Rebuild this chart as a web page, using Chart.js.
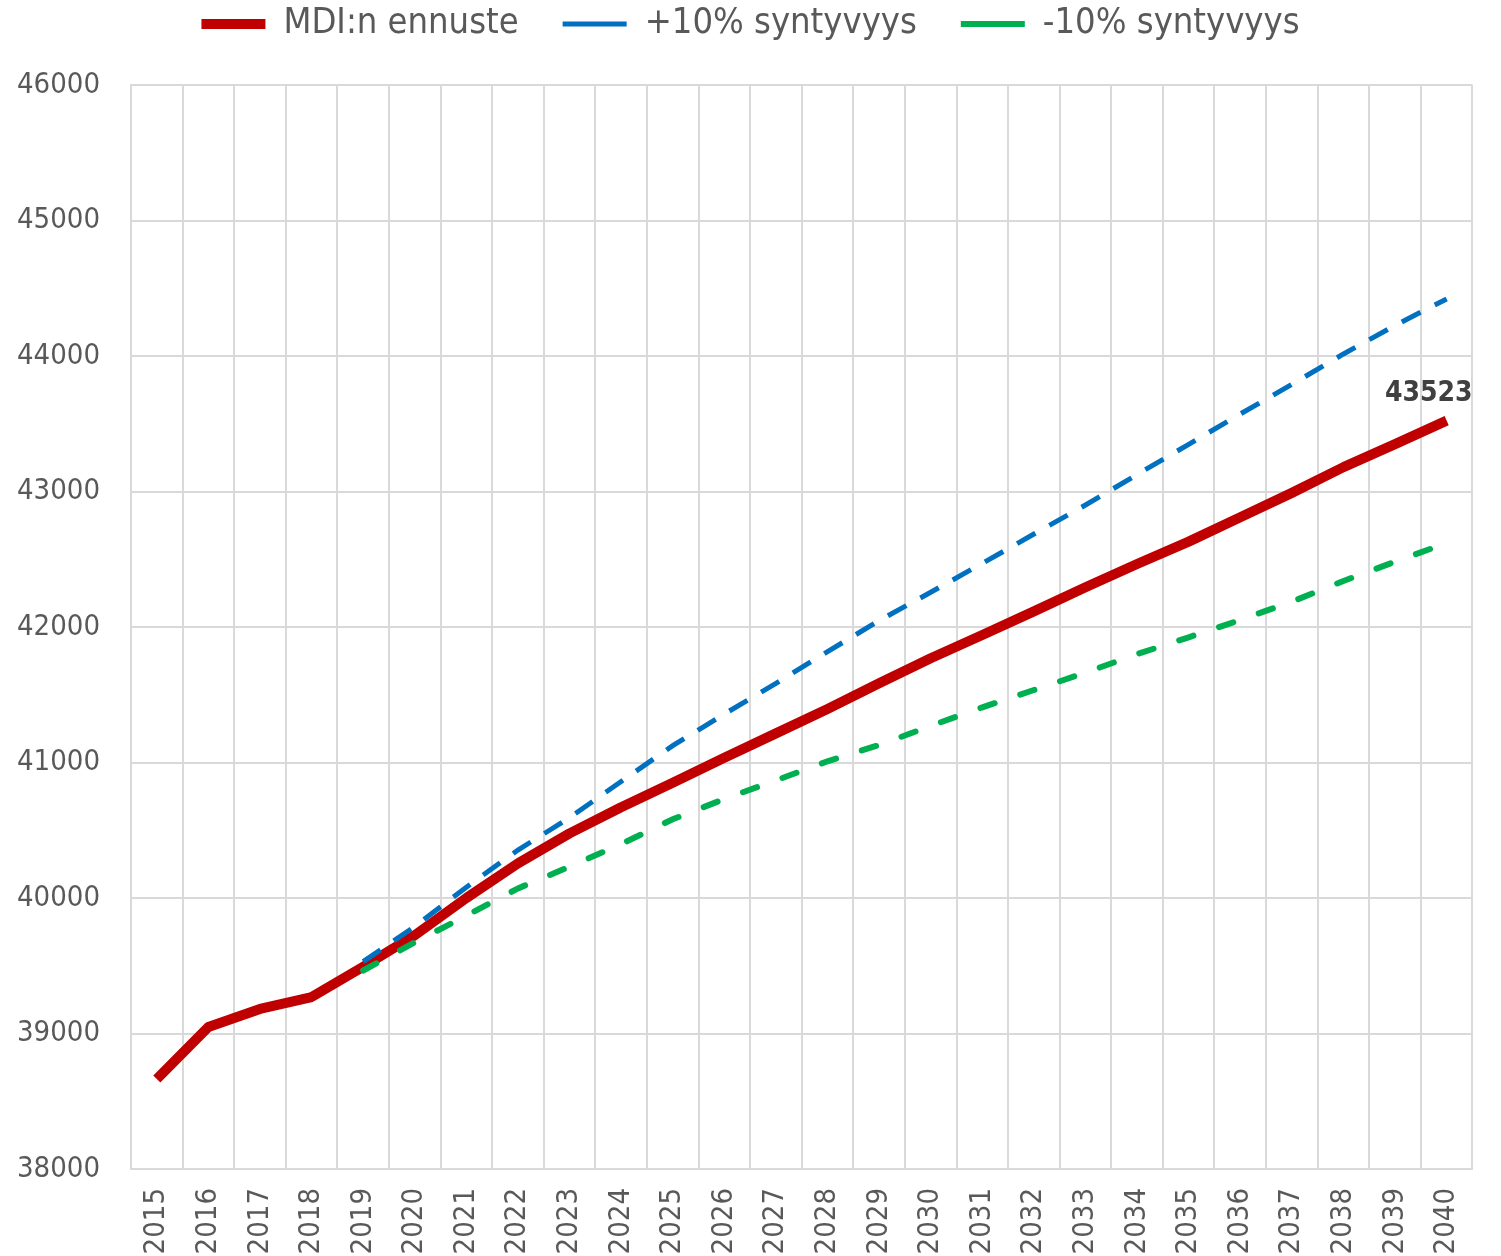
<!DOCTYPE html>
<html lang="fi">
<head>
    <meta charset="UTF-8">
    <title>Väestöennuste 2015–2040</title>
    <script src="https://cdn.jsdelivr.net/npm/chart.js"></script>
    <style>
        html, body {
            margin: 0;
            padding: 0;
            background-color: #ffffff;
        }

        .chart-container {
            width: 1501px;
            height: 1256px;
        }
    </style>
</head>
<body>
    <div class="chart-container">
        <canvas id="forecastChart" width="1501" height="1256"></canvas>
    </div>

    <script>
        const years = ['2015', '2016', '2017', '2018', '2019', '2020', '2021', '2022', '2023', '2024', '2025', '2026', '2027',
                       '2028', '2029', '2030', '2031', '2032', '2033', '2034', '2035', '2036', '2037', '2038', '2039', '2040'];

        // MDI forecast (history up to 2019)
        const mdiForecast = [38664, 39048, 39181, 39269, 39493, 39725, 40000, 40256, 40477, 40670, 40850, 41035, 41215,
                             41395, 41585, 41769, 41941, 42115, 42293, 42465, 42630, 42810, 42990, 43180, 43350, 43523];

        // birth rate +10 %
        const birthsPlus10 = [null, null, null, null, 39530, 39790, 40080, 40354, 40593, 40860, 41124, 41358, 41584,
                              41818, 42047, 42256, 42470, 42686, 42900, 43125, 43348, 43572, 43791, 44015, 44226, 44421];

        // birth rate -10 %
        const birthsMinus10 = [null, null, null, null, 39465, 39673, 39870, 40071, 40231, 40398, 40581, 40731, 40868,
                               41009, 41129, 41270, 41407, 41535, 41663, 41800, 41924, 42052, 42187, 42340, 42482, 42620];

        const seriesNames = ['MDI:n ennuste', '+10% syntyvyys', '-10% syntyvyys'];
        const yMin = 38000;
        const yMax = 46000;
        const yStep = 1000;

        const FONT = '"DejaVu Sans Condensed", "DejaVu Sans", sans-serif';
        const TEXT = '#595959';
        const GRID = '#d9d9d9';

        // value label above the last point of the main series
        const lastValueLabel = {
            id: 'lastValueLabel',
            afterDatasetsDraw(chart) {
                const meta = chart.getDatasetMeta(0);
                const last = meta.data.length - 1;
                const pt = meta.data[last];
                const ctx = chart.ctx;
                ctx.save();
                ctx.font = 'bold 28px ' + FONT;
                ctx.fillStyle = '#404040';
                ctx.textAlign = 'right';
                ctx.textBaseline = 'middle';
                ctx.fillText(String(mdiForecast[last]), pt.x + 26, pt.y - 27);
                ctx.restore();
            }
        };

        const ctx = document.getElementById('forecastChart').getContext('2d');

        const forecastChart = new Chart(ctx, {
            type: 'line',
            data: {
                labels: years,
                datasets: [
                    {
                        label: seriesNames[0], data: mdiForecast, order: 2, xAxisID: 'x', yAxisID: 'y',
                        borderColor: '#c00000', backgroundColor: '#c00000',
                        borderWidth: 10, borderCapStyle: 'butt', borderJoinStyle: 'round',
                        fill: false,
                    },
                    {
                        label: seriesNames[1], data: birthsPlus10, order: 1, xAxisID: 'x', yAxisID: 'y',
                        borderColor: '#0070c0', backgroundColor: '#0070c0',
                        borderWidth: 5, borderDash: [21, 16], borderCapStyle: 'butt',
                        fill: false,
                    },
                    {
                        label: seriesNames[2], data: birthsMinus10, order: 0, xAxisID: 'x', yAxisID: 'y',
                        borderColor: '#00b050', backgroundColor: '#00b050',
                        borderWidth: 6, borderDash: [15, 27], borderCapStyle: 'round',
                        fill: false,
                    },
                ],
            },
            options: {
                responsive: false,
                animation: false,
                layout: { padding: { top: -38, right: 0, left: 0, bottom: 0 } },
                elements: { point: { radius: 0, hoverRadius: 0 }, line: { tension: 0 } },
                scales: {
                    x: {
                        offset: true,
                        grid: { offset: true, color: GRID, lineWidth: 2, drawTicks: false },
                        border: { color: GRID, width: 2 },
                        ticks: {
                            autoSkip: false,
                            minRotation: 90,
                            maxRotation: 90,
                            padding: 19,
                            color: TEXT,
                            font: { family: FONT, size: 29 },
                        },
                        afterFit(scale) { scale.height = 87; },
                    },
                    y: {
                        min: yMin,
                        max: yMax,
                        grid: { color: GRID, lineWidth: 2, drawTicks: false },
                        border: { color: GRID, width: 2 },
                        ticks: {
                            stepSize: yStep,
                            padding: 31,
                            color: TEXT,
                            font: { family: FONT, size: 29 },
                            callback: (value) => String(value),
                        },
                        afterFit(scale) { scale.width = 131; },
                    },
                    // empty band between legend and plot
                    gap: {
                        axis: 'x',
                        type: 'category',
                        position: 'top',
                        grid: { display: false, drawTicks: false },
                        border: { display: false },
                        ticks: { display: false },
                        afterFit(scale) { scale.height = 33; },
                    },
                    // empty margin right of the plot
                    edge: {
                        axis: 'y',
                        type: 'linear',
                        position: 'right',
                        grid: { display: false, drawTicks: false },
                        border: { display: false },
                        ticks: { display: false },
                        afterFit(scale) { scale.width = 22; },
                    },
                },
                plugins: {
                    tooltip: { enabled: false },
                    legend: {
                        display: true,
                        position: 'top',
                        labels: {
                            usePointStyle: true,
                            pointStyle: 'line',
                            pointStyleWidth: 64,
                            padding: 44,
                            color: TEXT,
                            font: { family: FONT, size: 36 },
                            sort: (a, b) => a.datasetIndex - b.datasetIndex,
                        },
                    },
                },
            },
            plugins: [lastValueLabel],
        });
    </script>
</body>
</html>
